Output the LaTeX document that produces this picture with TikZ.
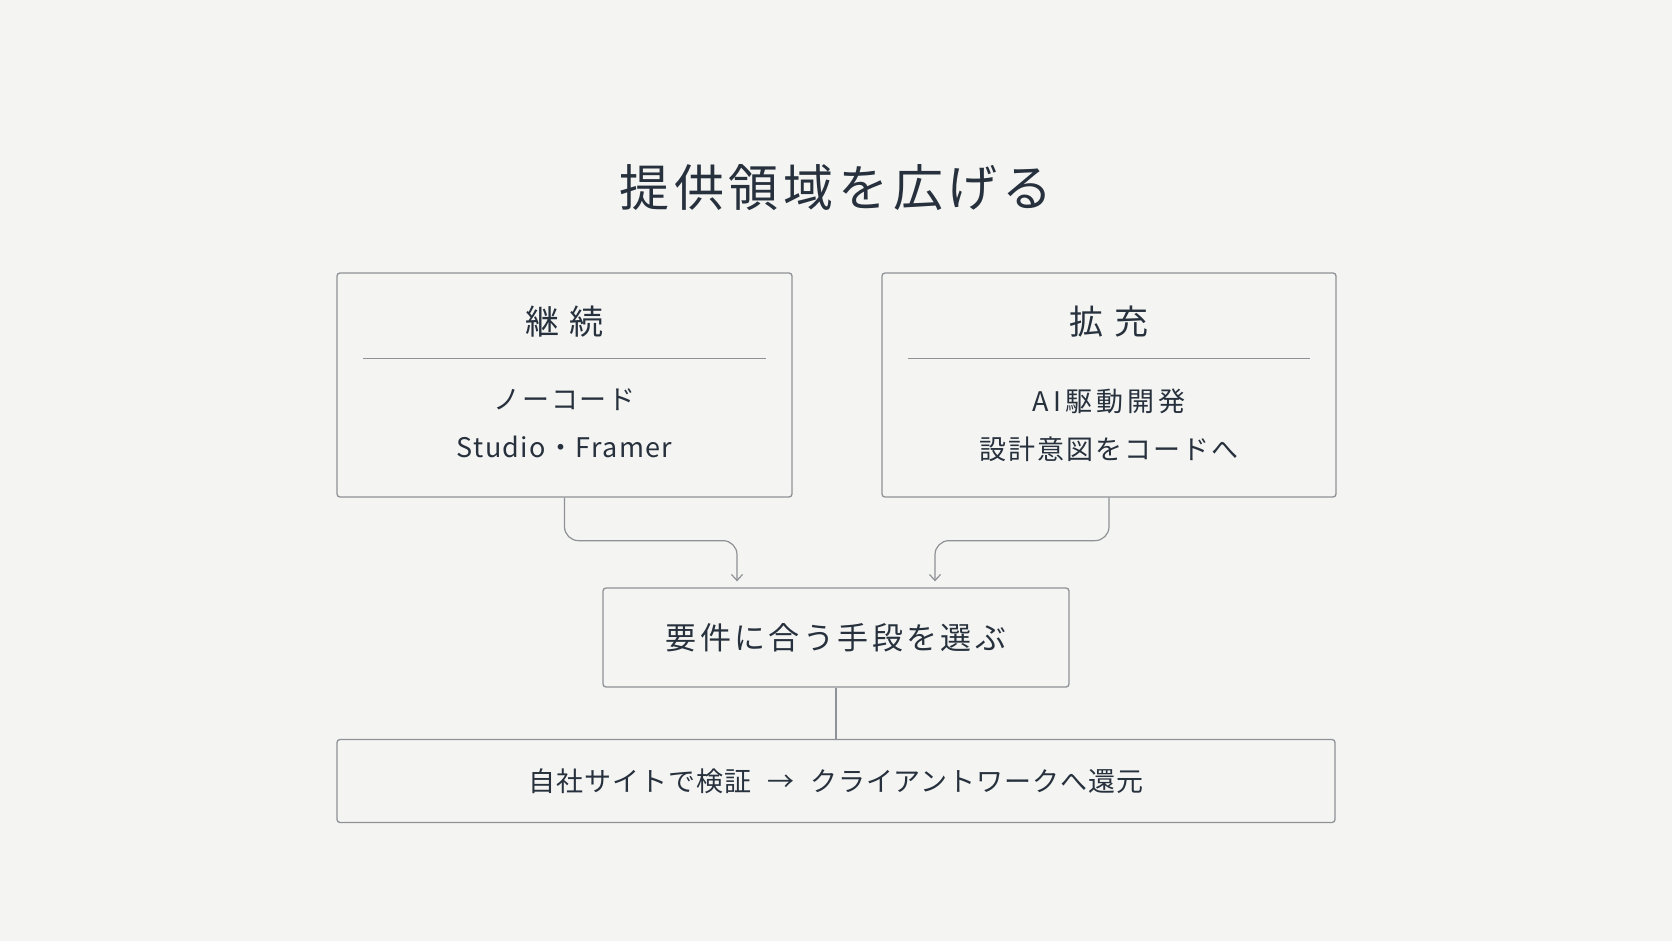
\documentclass[tikz,border=0pt]{standalone}
\usepackage{fontspec}
\setmainfont{Noto Sans CJK JP}
\usetikzlibrary{arrows.meta}
\definecolor{paper}{HTML}{F4F4F2}
\definecolor{ink}{HTML}{27313D}
\definecolor{rule}{HTML}{8E9195}

\begin{document}
\begin{tikzpicture}[x=1pt,y=-1pt]
    \tikzstyle{panel}=[draw=rule,line width=1.3pt,rounded corners=3pt,inner sep=0pt,text=ink];
    \tikzstyle{txt}=[text=ink,inner sep=0pt];
    \tikzstyle{wire}=[draw=rule,line width=1.2pt,rounded corners=14pt];
    \fill[paper] (0,0) rectangle (1672,941);

    \node (title) [txt,font=\fontsize{50}{50}\selectfont\addfontfeature{LetterSpace=9.5}]
    at (836,188) {提供領域を広げる};

    \node (cont) [panel,minimum width=455pt,minimum height=224pt] at (564.5,385) {};
    \node (expand) [panel,minimum width=454pt,minimum height=224pt] at (1109,385) {};

    \node (conthead) [txt,font=\fontsize{34}{34}\selectfont\addfontfeature{LetterSpace=30}]
    at (564.5,322) {継続};
    \node (conta) [txt,font=\fontsize{27}{27}\selectfont\addfontfeature{LetterSpace=6}]
    at (564.5,400) {ノーコード};
    \node (contb) [txt,font=\fontsize{27}{27}\selectfont\addfontfeature{LetterSpace=5}]
    at (564.5,447) {Studio・Framer};

    \node (exphead) [txt,font=\fontsize{34}{34}\selectfont\addfontfeature{LetterSpace=30}]
    at (1109,322) {拡充};
    \node (expa) [txt,font=\fontsize{27}{27}\selectfont\addfontfeature{LetterSpace=15}]
    at (1109,401) {AI駆動開発};
    \node (expb) [txt,font=\fontsize{27}{27}\selectfont\addfontfeature{LetterSpace=7}]
    at (1109,449) {設計意図をコードへ};

    \draw [rule,line width=1.1pt] ([xshift=27pt,yshift=-86pt]cont.north west)
    -- ([xshift=-27pt,yshift=-86pt]cont.north east);
    \draw [rule,line width=1.1pt] ([xshift=27pt,yshift=-86pt]expand.north west)
    -- ([xshift=-27pt,yshift=-86pt]expand.north east);

    \node (choose) [panel,minimum width=466pt,minimum height=99pt,
    font=\fontsize{31}{31}\selectfont\addfontfeature{LetterSpace=11}]
    at (836,637.5) {要件に合う手段を選ぶ};

    \node (loop) [panel,minimum width=998pt,minimum height=83pt,
    font=\fontsize{27}{27}\selectfont\addfontfeature{LetterSpace=3.5}]
    at (836,781) {自社サイトで検証\hspace{16pt}→\hspace{16pt}クライアントワークへ還元};

    \draw [wire,-{Straight Barb[length=6pt,width=11pt]}] (cont.south) -- ++(0,43)
    -| ([xshift=-99pt,yshift=6pt]choose.north);
    \draw [wire,-{Straight Barb[length=6pt,width=11pt]}] (expand.south) -- ++(0,43)
    -| ([xshift=99pt,yshift=6pt]choose.north);
    \draw [wire] (choose.south) -- (loop.north);
  \end{tikzpicture}
\end{document}
